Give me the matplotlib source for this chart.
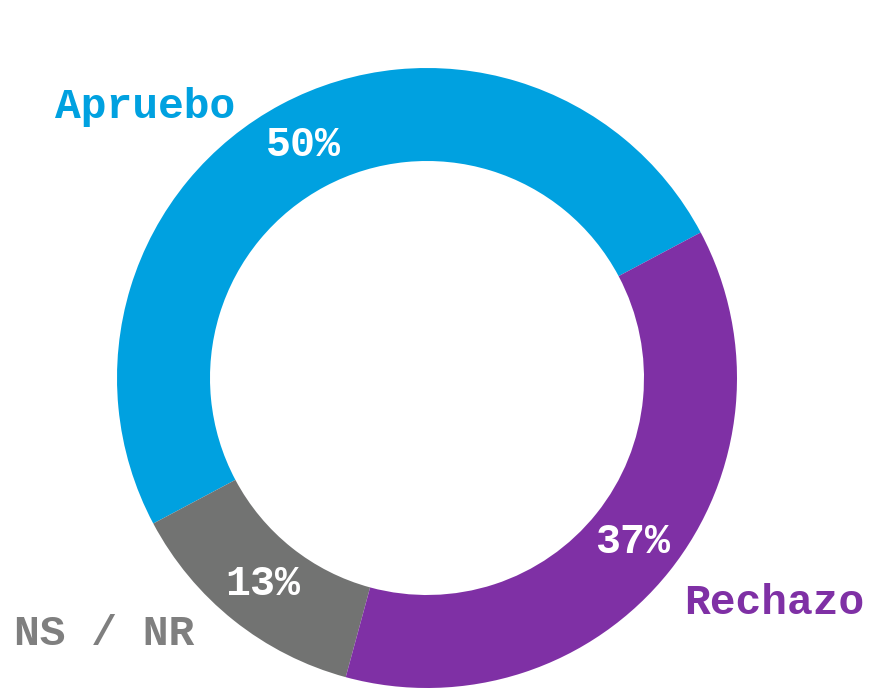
import matplotlib.pyplot as plt

labels = ['Apruebo', 'NS / NR', 'Rechazo']
values = [50, 13, 37]
colors = ['#00A1E0', '#727372', '#7F30A5']
label_colors = ['#00A1E0', '#7F7F7F', '#7F30A5']
# label anchor positions (in units of pie radius)
label_pos = [(-0.91, 0.875), (-1.04, -0.825), (1.12, -0.725)]

plt.rcParams['font.family'] = ['Courier New', 'Liberation Mono', 'DejaVu Sans Mono']

fig = plt.figure(figsize=(8.69, 6.88), dpi=100)
ax = fig.add_axes([0, 0, 1, 1])

wedges, texts, autotexts = ax.pie(
    values, colors=colors, startangle=28, counterclock=True,
    radius=1.0, wedgeprops=dict(width=0.30, linewidth=0),
    autopct='%1.0f%%', pctdistance=0.85,
    textprops=dict(color='white', fontsize=30, fontweight='bold'))

for lab, (x, y), c in zip(labels, label_pos, label_colors):
    ax.text(x, y, lab, color=c, fontsize=31, fontweight='bold',
            ha='center', va='center')

ax.set_xlim(-427 / 310, 442 / 310)
ax.set_ylim(-310 / 310, 378 / 310)
ax.set_aspect('equal')
ax.set_axis_off()

fig.savefig('out.png', dpi=100)
